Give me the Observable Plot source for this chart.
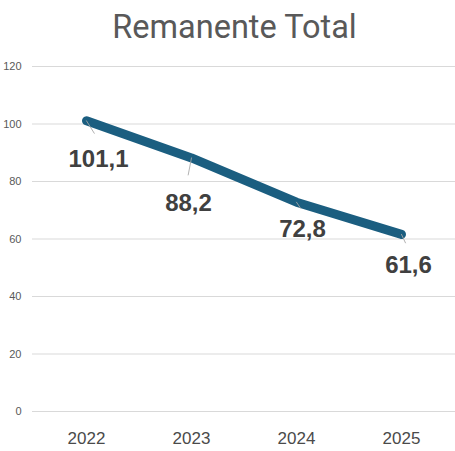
<!DOCTYPE html>
<html>
<head>
<meta charset="utf-8">
<script src="https://cdn.jsdelivr.net/npm/d3@7"></script>
<script src="https://cdn.jsdelivr.net/npm/@observablehq/plot@0.6"></script>
<style>
  body { margin: 0; background: #fff; }
  #title {
    height: 55px; width: 455px; text-align: center;
    font: 32.5px Roboto, sans-serif; color: #595959;
    line-height: 55px; box-sizing: border-box; padding: 0 0 2px 14px;
  }
</style>
</head>
<body>
<div id="title">Remanente Total</div>
<div id="chart"></div>
<script>
// Remanente Total, por año
const years = ["2022", "2023", "2024", "2025"];
const values = [101.1, 88.2, 72.8, 61.6];
const yTicks = [0, 20, 40, 60, 80, 100, 120];

// label placement (pixels from point) and leader lines
const labelDx = [12, -3, 6, 7];
const labelDy = [38, 45, 27, 31];
const leaderLen = [22, 26, 11, 14];
const leaderRot = [148, 191, 146, 155];

const rows = years.map((y, i) => ({ year: y, value: values[i], i }));
const fmt = v => v.toFixed(1).replace(".", ",");

const leader = { draw(ctx, l) { ctx.moveTo(0, 0); ctx.lineTo(0, -l); } };

const plot = Plot.plot({
  width: 455,
  height: 396,
  marginTop: 11,
  marginBottom: 40,
  marginLeft: 32,
  marginRight: 0,
  style: { fontFamily: "Liberation Sans, Arial, sans-serif", background: "#fff" },
  x: { type: "point", domain: years, padding: 0.5, label: null },
  y: { domain: [0, 120], label: null },
  marks: [
    Plot.ruleY(yTicks, { stroke: "#d9d9d9", strokeWidth: 1 }),
    Plot.axisY(yTicks, { tickSize: 0, tickPadding: 11, fontSize: 11, fill: "#595959", label: null }),
    Plot.axisX({ tickSize: 0, tickPadding: 20, fontSize: 17, fill: "#4a4a4a", label: null }),
    Plot.line(rows, { x: "year", y: "value", stroke: "#1b5e80", strokeWidth: 9, strokeLinecap: "round", strokeLinejoin: "round" }),
    Plot.vector(rows, {
      x: "year", y: "value", anchor: "start", shape: leader,
      length: d => leaderLen[d.i], rotate: d => leaderRot[d.i],
      stroke: "#a6a6a6", strokeWidth: 0.8
    }),
    ...rows.map(d => Plot.text([d], {
      x: "year", y: "value", text: r => fmt(r.value),
      dx: labelDx[d.i], dy: labelDy[d.i],
      fontSize: 24, fontWeight: "bold", fill: "#404040"
    }))
  ]
});
document.getElementById("chart").appendChild(plot);
</script>
</body>
</html>
